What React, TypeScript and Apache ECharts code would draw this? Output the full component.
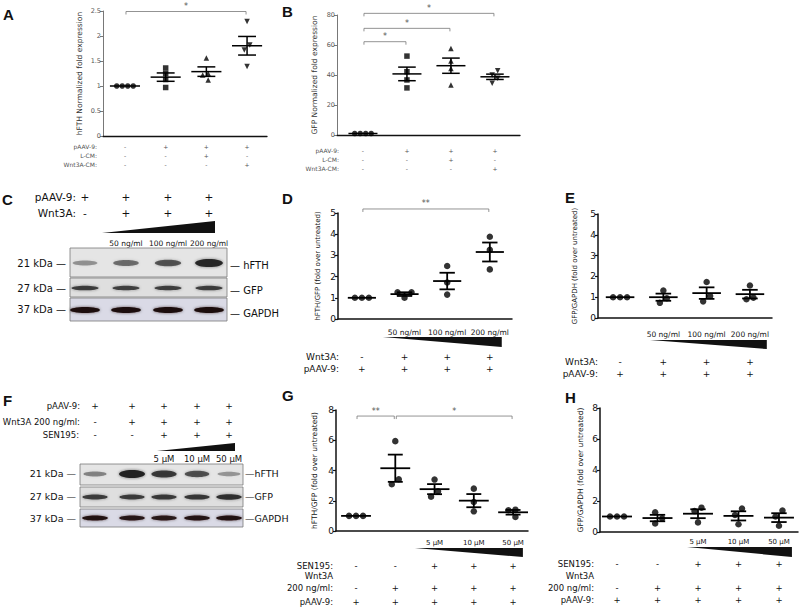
import React, { useEffect, useRef } from "react";
import * as echarts from "echarts";

// ================= DATA =================
// Panel A — hFTH normalized fold expression
const aControl = [1, 1, 1, 1];
const aPaav = [1.36, 1.25, 1.13, 0.97];
const aPaavLcm = [1.56, 1.25, 1.22, 1.12];
const aPaavWnt = [2.29, 1.82, 1.72, 1.39];
const abRowPaav = ["-", "+", "+", "+"];
const abRowLcm = ["-", "-", "+", "-"];
const abRowWnt = ["-", "-", "-", "+"];

// Panel B — GFP normalized fold expression
const bControl = [1, 1, 1, 1];
const bPaav = [52.6, 42.2, 36.7, 31.4];
const bPaavLcm = [57.7, 49.3, 44.4, 33.4];
const bPaavWnt = [42.9, 40.0, 37.8, 34.5];

// Panel C — western blot (relative band intensity)
const cRowPaav = ["+", "+", "+", "+"];
const cRowWnt = ["-", "+", "+", "+"];
const wntDoses = ["50 ng/ml", "100 ng/ml", "200 ng/ml"];
const cHfth = [0.22, 0.45, 0.6, 0.95];
const cGfp = [0.8, 0.78, 0.78, 0.8];
const cGapdh = [1, 1, 1, 1];
const markers = ["21 kDa", "27 kDa", "37 kDa"];
const proteins = ["hFTH", "GFP", "GAPDH"];

// Panel D — hFTH/GFP
const dUntreated = [1, 1, 1];
const d50 = [1.0, 1.26, 1.26];
const d100 = [2.5, 1.72, 1.15];
const d200 = [3.88, 3.26, 2.34];
const deRowWnt = ["-", "+", "+", "+"];
const deRowPaav = ["+", "+", "+", "+"];

// Panel E — GFP/GAPDH
const eUntreated = [1, 1, 1];
const e50 = [0.95, 1.32, 0.73];
const e100 = [1.73, 1.06, 0.8];
const e200 = [1.56, 0.98, 0.9];

// Panel F — western blot
const fRowPaav = ["+", "+", "+", "+", "+"];
const fRowWnt = ["-", "+", "+", "+", "+"];
const fRowSen = ["-", "-", "+", "+", "+"];
const senDoses = ["5 μM", "10 μM", "50 μM"];
const fHfth = [0.3, 1, 0.8, 0.62, 0.2];
const fGfp = [0.8, 0.8, 0.82, 0.85, 0.9];
const fGapdh = [0.95, 0.9, 0.88, 0.92, 0.95];

// Panel G — hFTH/GFP
const gUntreated = [1, 1, 1];
const gWnt = [5.94, 3.42, 3.09];
const gSen5 = [3.4, 2.63, 2.27];
const gSen10 = [2.8, 1.92, 1.3];
const gSen50 = [0.93, 1.41, 1.37];

// Panel H — GFP/GAPDH
const hUntreated = [1, 1, 1];
const hWnt = [0.88, 1.27, 0.55];
const hSen5 = [1.57, 1.35, 0.62];
const hSen10 = [1.52, 1.1, 0.5];
const hSen50 = [1.38, 1.0, 0.4];
const ghRowSen = ["-", "-", "+", "+", "+"];
const ghRowWnt = ["-", "+", "+", "+", "+"];
const ghRowPaav = ["+", "+", "+", "+", "+"];

// ================= LAYOUT =================
const FONT = "DejaVu Sans";
const BOLDFONT = "Liberation Sans";

type Row = { label: string; marks: string[]; dy: number };
type Panel = {
  grid: { left: number; top: number; width: number; height: number };
  xMin: number; xMax: number; yMax: number; yInterval: number;
  groups: number[][];
  symbols: string[]; rotates: number[]; symbolSize: number;
  bold: boolean;
  yName: string; yNameGap: number; yNameSize: number; tickSize: number;
  rows: Row[]; rowDx: number; rowFont: number;
  doses?: string[]; doseStart?: number; doseDy?: number; doseFont?: number;
  wedge?: [number, number, number, number];
  sig: [number, number, number, string][];
  meanHalf: number; capHalf: number; lineW: number;
};

const panels: Panel[] = [
  {
    grid: { left: 103, top: 11, width: 164, height: 125 },
    xMin: -0.54, xMax: 3.49, yMax: 2.5, yInterval: 0.5,
    groups: [aControl, aPaav, aPaavLcm, aPaavWnt],
    symbols: ["circle", "rect", "triangle", "triangle"], rotates: [0, 0, 0, 180], symbolSize: 5.5,
    bold: false, yName: "hFTH Normalized fold expression", yNameGap: 20, yNameSize: 7.5, tickSize: 6.5,
    rows: [
      { label: "pAAV-9:", marks: abRowPaav, dy: 10 },
      { label: "L-CM:", marks: abRowLcm, dy: 19 },
      { label: "Wnt3A-CM:", marks: abRowWnt, dy: 28 },
    ],
    rowDx: -6, rowFont: 6,
    sig: [[0, 3, 2.49, "*"]],
    meanHalf: 0.37, capHalf: 0.22, lineW: 1.5,
  },
  {
    grid: { left: 337, top: 15, width: 183, height: 120 },
    xMin: -0.59, xMax: 3.57, yMax: 80, yInterval: 20,
    groups: [bControl, bPaav, bPaavLcm, bPaavWnt],
    symbols: ["circle", "rect", "triangle", "triangle"], rotates: [0, 0, 0, 180], symbolSize: 5.5,
    bold: false, yName: "GFP Normalized fold expression", yNameGap: 19, yNameSize: 7.5, tickSize: 6.5,
    rows: [
      { label: "pAAV-9:", marks: abRowPaav, dy: 15.5 },
      { label: "L-CM:", marks: abRowLcm, dy: 24 },
      { label: "Wnt3A-CM:", marks: abRowWnt, dy: 33.5 },
    ],
    rowDx: 2, rowFont: 6,
    sig: [[0, 3, 81.1, "*"], [0, 2, 71.1, "*"], [0, 1, 62.2, "*"]],
    meanHalf: 0.33, capHalf: 0.2, lineW: 1.5,
  },
  {
    grid: { left: 338, top: 213, width: 174, height: 106 },
    xMin: -0.56, xMax: 3.52, yMax: 5, yInterval: 1,
    groups: [dUntreated, d50, d100, d200],
    symbols: ["circle", "circle", "circle", "circle"], rotates: [0, 0, 0, 0], symbolSize: 6.5,
    bold: true, yName: "hFTH/GFP (fold over untreated)", yNameGap: 17, yNameSize: 7, tickSize: 9,
    rows: [
      { label: "Wnt3A:", marks: deRowWnt, dy: 38 },
      { label: "pAAV-9:", marks: deRowPaav, dy: 50 },
    ],
    rowDx: 1, rowFont: 9,
    doses: wntDoses, doseStart: 1, doseDy: 13.7, doseFont: 7.5,
    wedge: [0.49, 3.28, 18, 28],
    sig: [[0, 3, 5.19, "**"]],
    meanHalf: 0.33, capHalf: 0.18, lineW: 1.8,
  },
  {
    grid: { left: 598, top: 214, width: 174, height: 104 },
    xMin: -0.51, xMax: 3.51, yMax: 5, yInterval: 1,
    groups: [eUntreated, e50, e100, e200],
    symbols: ["circle", "circle", "circle", "circle"], rotates: [0, 0, 0, 0], symbolSize: 6.5,
    bold: true, yName: "GFP/GAPDH (fold over untreated)", yNameGap: 20, yNameSize: 7, tickSize: 9,
    rows: [
      { label: "Wnt3A:", marks: deRowWnt, dy: 44 },
      { label: "pAAV-9:", marks: deRowPaav, dy: 56 },
    ],
    rowDx: 0, rowFont: 9,
    doses: wntDoses, doseStart: 1, doseDy: 16, doseFont: 7.5,
    wedge: [0.69, 3.39, 22, 31],
    sig: [],
    meanHalf: 0.33, capHalf: 0.18, lineW: 1.8,
  },
  {
    grid: { left: 336, top: 410, width: 192, height: 121 },
    xMin: -0.51, xMax: 4.38, yMax: 8, yInterval: 2,
    groups: [gUntreated, gWnt, gSen5, gSen10, gSen50],
    symbols: ["circle", "circle", "circle", "circle", "circle"], rotates: [0, 0, 0, 0, 0], symbolSize: 6.5,
    bold: true, yName: "hFTH/GFP (fold over untreated)", yNameGap: 18, yNameSize: 7.5, tickSize: 9,
    rows: [
      { label: "SEN195:", marks: ghRowSen, dy: 34.7 },
      { label: "Wnt3A", marks: [], dy: 44.7 },
      { label: "200 ng/ml:", marks: ghRowWnt, dy: 57.3 },
      { label: "pAAV-9:", marks: ghRowPaav, dy: 70.7 },
    ],
    rowDx: -3, rowFont: 8.5,
    doses: senDoses, doseStart: 2, doseDy: 11.7, doseFont: 7,
    wedge: [1.5, 4.25, 17, 26],
    sig: [[0, 1, 7.6, "**"], [1, 4, 7.6, "*"]],
    meanHalf: 0.38, capHalf: 0.19, lineW: 1.8,
  },
  {
    grid: { left: 600, top: 408, width: 198, height: 124 },
    xMin: -0.42, xMax: 4.47, yMax: 8, yInterval: 2,
    groups: [hUntreated, hWnt, hSen5, hSen10, hSen50],
    symbols: ["circle", "circle", "circle", "circle", "circle"], rotates: [0, 0, 0, 0, 0], symbolSize: 6.5,
    bold: true, yName: "GFP/GAPDH (fold over untreated)", yNameGap: 16, yNameSize: 7.5, tickSize: 9,
    rows: [
      { label: "SEN195:", marks: ghRowSen, dy: 32 },
      { label: "Wnt3A", marks: [], dy: 43.7 },
      { label: "200 ng/ml:", marks: ghRowWnt, dy: 55.7 },
      { label: "pAAV-9:", marks: ghRowPaav, dy: 68 },
    ],
    rowDx: -6, rowFont: 8.5,
    doses: senDoses, doseStart: 2, doseDy: 9.7, doseFont: 7,
    wedge: [1.73, 4.32, 15, 25],
    sig: [],
    meanHalf: 0.37, capHalf: 0.19, lineW: 1.8,
  },
];

// ================= HELPERS =================
const mean = (a: number[]) => a.reduce((s, x) => s + x, 0) / a.length;
const sem = (a: number[]) => {
  const m = mean(a);
  const sd = Math.sqrt(a.reduce((s, x) => s + (x - m) * (x - m), 0) / (a.length - 1));
  return sd / Math.sqrt(a.length);
};

// simple beeswarm: returns x offsets (in axis units) for each value
function swarm(vals: number[], pxX: number, pxY: number, d: number): number[] {
  const slots: number[] = [];
  const cand = [0, -1, 1, -2, 2, -3, 3];
  vals.forEach((v) => {
    for (const k of cand) {
      const clash = slots.some((o, j) => o === k && Math.abs(vals[j] - v) * pxY < d);
      if (!clash) { slots.push(k); break; }
    }
  });
  const comp = vals.map((_, i) => i);
  const find = (i: number): number => (comp[i] === i ? i : (comp[i] = find(comp[i])));
  for (let i = 0; i < vals.length; i++)
    for (let j = i + 1; j < vals.length; j++)
      if (Math.abs(vals[i] - vals[j]) * pxY < d) comp[find(i)] = find(j);
  const shift: Record<number, number[]> = {};
  vals.forEach((_, i) => { const r = find(i); (shift[r] = shift[r] || []).push(slots[i]); });
  return vals.map((_, i) => {
    const s = shift[find(i)];
    const c = s.length > 1 ? mean(s) : slots[i];
    return ((slots[i] - c) * d) / pxX;
  });
}

function bandEls(lanes: number[], y: number, intens: number[], rx: number, baseRy: number, growRy: number, rgb: string) {
  const els: any[] = [];
  intens.forEach((a, i) => {
    els.push({
      type: "ellipse",
      shape: { cx: lanes[i], cy: y, rx: rx * (0.85 + 0.15 * a), ry: baseRy + growRy * a },
      style: { fill: `rgba(${rgb},${Math.min(1, 0.25 + 0.75 * a)})`, shadowBlur: 3, shadowColor: `rgba(${rgb},${0.6 * a})` },
    });
  });
  return els;
}

function txt(text: string, x: number, y: number, size: number, align = "left", extra: any = {}) {
  return {
    type: "text", x, y,
    style: { text, align, verticalAlign: "middle", fontSize: size, fontFamily: FONT, fill: "#111", ...extra },
  };
}

function buildGraphic() {
  const els: any[] = [];
  const letters: [string, number, number][] = [
    ["A", 3, 7], ["B", 282, 4], ["C", 2, 192], ["D", 282, 191], ["E", 565, 190], ["F", 3, 393], ["G", 282, 388], ["H", 565, 390],
  ];
  letters.forEach(([t, x, y]) =>
    els.push({ type: "text", x, y, style: { text: t, fontSize: 15, fontWeight: "bold", fontFamily: BOLDFONT, fill: "#111", verticalAlign: "top" } })
  );

  // ---------- Panel C blot ----------
  const cLanes = [85, 126, 168, 209];
  els.push(txt("pAAV-9:", 76, 197, 10.5, "right"));
  els.push(txt("Wnt3A:", 76, 213, 10.5, "right"));
  cRowPaav.forEach((m, i) => els.push(txt(m, cLanes[i], 197, 10.5, "center")));
  cRowWnt.forEach((m, i) => els.push(txt(m, cLanes[i], 213, 10.5, "center")));
  els.push({ type: "polygon", shape: { points: [[102, 233], [215, 233], [215, 221]] }, style: { fill: "#111" } });
  wntDoses.forEach((d, i) => els.push(txt(d, cLanes[i + 1], 243, 7.5, "center")));
  const cBoxes: [number, number, string][] = [[248, 29, "#e5e5e5"], [278, 19, "#dfdfdf"], [298, 23, "#dadae6"]];
  cBoxes.forEach(([y, h, f]) =>
    els.push({ type: "rect", shape: { x: 70, y, width: 157, height: h }, style: { fill: f, stroke: "#7a7a7a", lineWidth: 0.8 } })
  );
  els.push(...bandEls(cLanes, 263, cHfth, 14, 2, 2.2, "35,35,35"));
  els.push(...bandEls(cLanes, 288, cGfp, 14, 1.6, 0.9, "40,40,40"));
  els.push(...bandEls(cLanes, 310, cGapdh, 15, 2.4, 0.6, "28,14,14"));
  const cMarkY = [263, 288, 309];
  markers.forEach((m, i) => els.push(txt(m + " —", 66, cMarkY[i], 10, "right")));
  const cProtY = [265, 290, 313];
  proteins.forEach((p, i) => els.push(txt("— " + p, 230, cProtY[i], 10, "left")));

  // ---------- Panel F blot ----------
  const fLanes = [95, 132, 164, 197, 229];
  els.push(txt("pAAV-9:", 80, 406, 8.5, "right"));
  els.push(txt("Wnt3A 200 ng/ml:", 80, 422, 8.5, "right"));
  els.push(txt("SEN195:", 79, 435, 8.5, "right"));
  fRowPaav.forEach((m, i) => els.push(txt(m, fLanes[i], 406, 9, "center")));
  fRowWnt.forEach((m, i) => els.push(txt(m, fLanes[i], 422, 9, "center")));
  fRowSen.forEach((m, i) => els.push(txt(m, fLanes[i], 435, 9, "center")));
  els.push({ type: "polygon", shape: { points: [[157, 451], [235, 451], [235, 443]] }, style: { fill: "#111" } });
  senDoses.forEach((d, i) => els.push(txt(d, fLanes[i + 2], 459, 8.5, "center")));
  const fBoxes: [number, number, string][] = [[464, 21, "#e5e5e5"], [487, 20, "#dfdfdf"], [509, 18, "#dadae6"]];
  fBoxes.forEach(([y, h, f]) =>
    els.push({ type: "rect", shape: { x: 80, y, width: 163, height: h }, style: { fill: f, stroke: "#7a7a7a", lineWidth: 0.8 } })
  );
  els.push(...bandEls(fLanes, 474, fHfth, 13, 1.8, 2.2, "35,35,35"));
  els.push(...bandEls(fLanes, 497, fGfp, 13, 1.6, 1.2, "40,40,40"));
  els.push(...bandEls(fLanes, 518, fGapdh, 13, 2, 0.6, "28,14,14"));
  const fMarkY = [473, 496, 518];
  markers.forEach((m, i) => els.push(txt(m + " —", 76, fMarkY[i], 9.5, "right")));
  proteins.forEach((p, i) => els.push(txt("—" + p, 245, fMarkY[i], 9.5, "left")));
  return els;
}

function buildOption() {
  const grid: any[] = [], xAxis: any[] = [], yAxis: any[] = [], series: any[] = [];
  panels.forEach((p, pi) => {
    grid.push({ ...p.grid, containLabel: false });
    const axisColor = p.bold ? "#111" : "#555";
    xAxis.push({
      type: "value", gridIndex: pi, min: p.xMin, max: p.xMax,
      axisLine: { show: true, onZero: false, lineStyle: { color: "#111", width: p.bold ? 1.5 : 1.3 } },
      axisTick: { show: false }, axisLabel: { show: false }, splitLine: { show: false },
    });
    yAxis.push({
      type: "value", gridIndex: pi, min: 0, max: p.yMax, interval: p.yInterval,
      axisLine: { show: true, onZero: false, lineStyle: { color: axisColor, width: p.bold ? 1.5 : 0.8 } },
      axisTick: { show: true, length: 3, lineStyle: { color: axisColor, width: p.bold ? 1.2 : 0.8 } },
      axisLabel: { fontSize: p.tickSize, color: axisColor, margin: 2, fontFamily: FONT },
      splitLine: { show: false },
      name: p.yName, nameLocation: "middle", nameRotate: 90, nameGap: p.yNameGap,
      nameTextStyle: { fontSize: p.yNameSize, color: p.bold ? "#111" : "#333", fontFamily: FONT },
    });
    const pxX = p.grid.width / (p.xMax - p.xMin);
    const pxY = p.grid.height / p.yMax;
    const dPx = p.bold ? 7 : 5.5;

    p.groups.forEach((vals, gi) => {
      const offs = swarm(vals, pxX, pxY, dPx);
      series.push({
        type: "scatter", xAxisIndex: pi, yAxisIndex: pi,
        symbol: p.symbols[gi], symbolRotate: p.rotates[gi], symbolSize: p.symbolSize,
        itemStyle: { color: "#000" }, silent: true,
        data: vals.map((v, i) => [gi + offs[i], v]),
      });
    });

    const meanHalf = p.meanHalf, capHalf = p.capHalf, lw = p.lineW;
    series.push({
      type: "custom", xAxisIndex: pi, yAxisIndex: pi, silent: true,
      data: p.groups.map((vals, gi) => [gi, mean(vals), sem(vals)]),
      renderItem: (params: any, api: any) => {
        const x = api.value(0), m = api.value(1), s = api.value(2);
        const c = api.coord([x, m]);
        const hw = api.size([meanHalf, 0])[0];
        const cw = api.size([capHalf, 0])[0];
        const st = { stroke: "#000", lineWidth: lw };
        const ch: any[] = [{ type: "line", shape: { x1: c[0] - hw, y1: c[1], x2: c[0] + hw, y2: c[1] }, style: st }];
        if (s > 1e-9) {
          const t = api.coord([x, m + s])[1];
          const b = api.coord([x, m - s])[1];
          ch.push({ type: "line", shape: { x1: c[0], y1: t, x2: c[0], y2: b }, style: st });
          ch.push({ type: "line", shape: { x1: c[0] - cw, y1: t, x2: c[0] + cw, y2: t }, style: st });
          ch.push({ type: "line", shape: { x1: c[0] - cw, y1: b, x2: c[0] + cw, y2: b }, style: st });
        }
        return { type: "group", children: ch };
      },
    });

    if (p.sig.length) {
      const sigs = p.sig;
      series.push({
        type: "custom", xAxisIndex: pi, yAxisIndex: pi, silent: true, clip: false,
        data: sigs.map((s) => [s[0], s[2], s[1]]),
        renderItem: (params: any, api: any) => {
          const s = sigs[params.dataIndex];
          const a = api.coord([s[0], s[2]]);
          const b = api.coord([s[1], s[2]]);
          const x1 = a[0] - 2, x2 = b[0] + 2;
          return {
            type: "group",
            children: [
              { type: "polyline", shape: { points: [[x1 + 3, a[1] + 3], [x1 + 3, a[1]], [x2 - 3, a[1]], [x2 - 3, a[1] + 3]] }, style: { stroke: "#777", lineWidth: 0.8, fill: null } },
              { type: "text", style: { text: s[3], x: (x1 + x2) / 2, y: a[1] - 1, align: "center", verticalAlign: "bottom", fontSize: 8, fontFamily: FONT, fill: "#555" } },
            ],
          };
        },
      });
    }

    const P = p;
    series.push({
      type: "custom", xAxisIndex: pi, yAxisIndex: pi, silent: true, clip: false,
      data: [[0, 0]],
      renderItem: (params: any, api: any) => {
        const base = api.coord([P.xMin, 0]);
        const ch: any[] = [];
        const color = P.bold ? "#111" : "#555";
        P.rows.forEach((r) => {
          ch.push({ type: "text", style: { text: r.label, x: base[0] + P.rowDx, y: base[1] + r.dy, align: "right", verticalAlign: "middle", fontSize: P.rowFont, fontFamily: FONT, fill: color } });
          r.marks.forEach((m, i) => {
            const px = api.coord([i, 0])[0];
            ch.push({ type: "text", style: { text: m, x: px, y: base[1] + r.dy, align: "center", verticalAlign: "middle", fontSize: P.rowFont, fontFamily: FONT, fill: color } });
          });
        });
        if (P.doses && P.wedge) {
          P.doses.forEach((d, i) => {
            const px = api.coord([(P.doseStart as number) + i, 0])[0];
            ch.push({ type: "text", style: { text: d, x: px, y: base[1] + (P.doseDy as number), align: "center", verticalAlign: "middle", fontSize: P.doseFont, fontFamily: FONT, fill: "#111" } });
          });
          const [w0, w1, t, b] = P.wedge;
          const x0 = api.coord([w0, 0])[0], x1 = api.coord([w1, 0])[0];
          ch.push({ type: "polygon", shape: { points: [[x0, base[1] + t], [x1, base[1] + t], [x1, base[1] + b]] }, style: { fill: "#111" } });
        }
        return { type: "group", children: ch };
      },
    });
  });

  return {
    animation: false,
    backgroundColor: "#ffffff",
    textStyle: { fontFamily: FONT },
    grid, xAxis, yAxis, series,
    graphic: { elements: buildGraphic() },
  };
}

export default function App() {
  const ref = useRef<HTMLDivElement>(null);
  useEffect(() => {
    document.body.style.margin = "0";
    const chart = echarts.init(ref.current as HTMLDivElement, undefined, { renderer: "svg", width: 800, height: 608 });
    chart.setOption(buildOption() as any);
    return () => chart.dispose();
  }, []);
  return <div ref={ref} style={{ position: "absolute", left: 0, top: 0, width: 800, height: 608 }} />;
}
